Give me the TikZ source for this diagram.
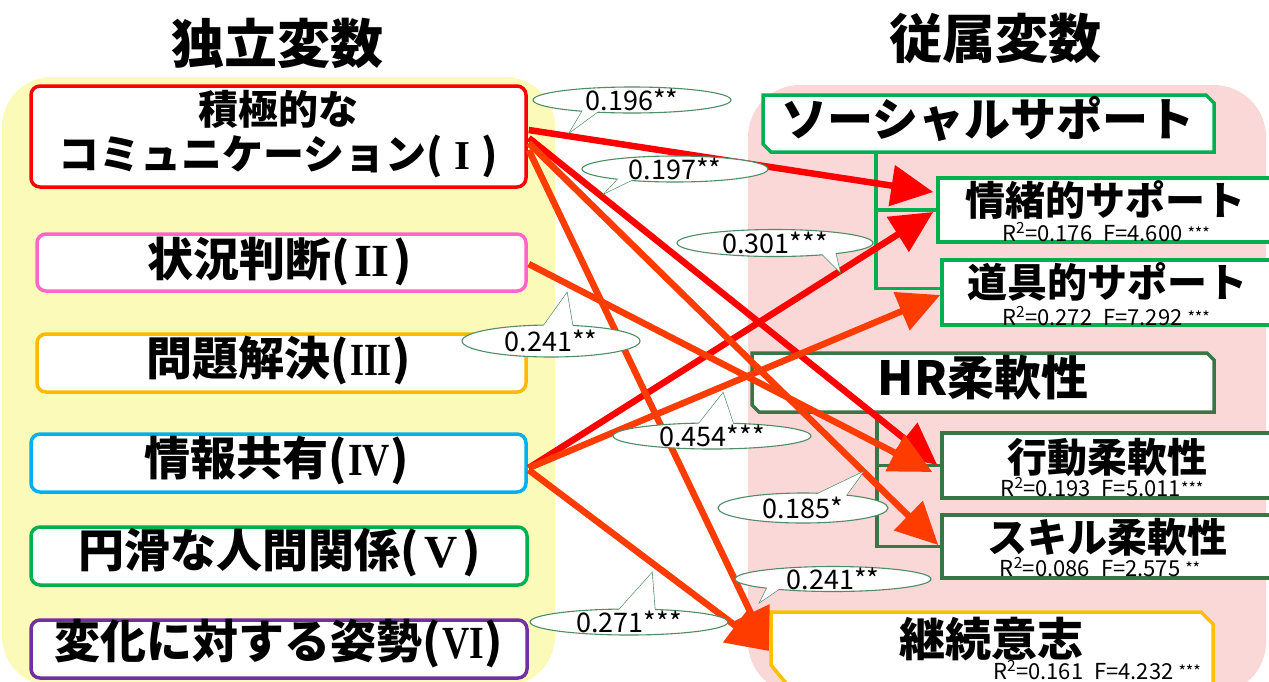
\documentclass[tikz,border=0pt]{standalone}
\usepackage{graphicx}
\usepackage{fontspec}
\setmainfont{Noto Sans CJK JP}
\newfontfamily\romfont{Liberation Serif}
\usetikzlibrary{arrows.meta,shapes.geometric,calc}
\definecolor{bgyellow}{RGB}{252,250,185}
\definecolor{bgpink}{RGB}{251,216,216}
\definecolor{cI}{RGB}{255,0,0}
\definecolor{cII}{RGB}{255,102,204}
\definecolor{cIII}{RGB}{255,185,0}
\definecolor{cIV}{RGB}{0,176,240}
\definecolor{cV}{RGB}{0,176,80}
\definecolor{cVI}{RGB}{112,48,160}
\definecolor{ssgreen}{RGB}{0,176,80}
\definecolor{hrgreen}{RGB}{56,118,70}
\definecolor{kzorange}{RGB}{255,192,0}
\definecolor{arred}{RGB}{255,0,0}
\definecolor{arorange}{RGB}{255,60,0}
\definecolor{callgreen}{RGB}{80,140,100}
\newcommand{\rnum}[2][1]{\makebox[0.95em]{\scalebox{#1}[1]{\romfont\bfseries #2}}}
\newcommand{\stars}[1]{\raisebox{2pt}{\fontsize{16}{16}\selectfont #1}}
\newcommand{\mybub}[6]{%
  \filldraw[tailsty] #5 -- cycle;
  \node[bub, minimum width=#3, minimum height=#4] (#1) at #2 {};
  \fill[white] #5 -- cycle;
  \node[numtxt] at (#1.center) {#6};}
\begin{document}
\begin{tikzpicture}[x=1pt,y=-1pt,
  jp/.style={inner sep=0pt, font=\fontsize{#1}{#1}\selectfont\bfseries},
  lbox/.style={draw, fill=white, rounded corners=9pt, line width=3.5pt, inner sep=0pt},
  rbox/.style={draw, fill=white, line width=3.5pt, inner sep=0pt},
  bub/.style={ellipse, draw=callgreen, fill=white, line width=1.1pt, inner sep=0pt},
  tailsty/.style={draw=callgreen, fill=white, line width=1.3pt, line join=miter},
  numtxt/.style={inner sep=0pt, font=\fontsize{27}{30}\selectfont},
  rsq/.style={inner sep=0pt, font=\fontsize{22}{24}\selectfont},
  arr/.style={line width=6.5pt, -{Triangle[length=42pt,width=40pt]}},
  ssline/.style={draw=ssgreen, line width=3.5pt},
  hrline/.style={draw=hrgreen, line width=3.5pt}]
\useasboundingbox (0,0) rectangle (1269,681);
\clip (0,0) rectangle (1269,681);
\fill[white] (0,0) rectangle (1269,681);
% backgrounds
\fill[bgyellow, rounded corners=50pt] (2,77) rectangle (555,686);
\fill[bgpink, rounded corners=52pt] (748,85) rectangle (1266,694);
% titles
\node[jp=53] (t1) at (277,43) {独立変数};
\node[jp=53] (t2) at (995,38) {従属変数};
% left boxes
\node[lbox, draw=cI, minimum width=495pt, minimum height=101pt] (b1) at (278.5,136.5) {};
\node[lbox, draw=cII, minimum width=489pt, minimum height=57pt] (b2) at (281.5,262.5) {};
\node[lbox, draw=cIII, minimum width=489pt, minimum height=58pt] (b3) at (281.5,363) {};
\node[lbox, draw=cIV, minimum width=495pt, minimum height=58pt] (b4) at (278.5,463) {};
\node[lbox, draw=cV, minimum width=496pt, minimum height=58pt] (b5) at (279,556) {};
\node[lbox, draw=cVI, minimum width=496pt, minimum height=58pt] (b6) at (279,649) {};
\node[jp=40] (b1a) at (278,109) {積極的な};
\node[jp=41] (b1b) at (278,156) {コミュニケーション(\rnum{I})};
\node[jp=46] (b2t) at (280,261) {状況判断(\rnum{II})};
\node[jp=46] (b3t) at (279,361) {問題解決(\rnum[0.78]{III})};
\node[jp=46] (b4t) at (277,461) {情報共有(\rnum[0.82]{IV})};
\node[jp=46] (b5t) at (280,553) {円滑な人間関係(\rnum{V})};
\node[jp=46] (b6t) at (279,644) {変化に対する姿勢(\rnum[0.82]{VI})};
% right boxes
\draw[ssline, fill=white] (763,95) -- (1206,95) -- (1214,103) -- (1214,152) -- (771,152) -- (763,144) -- cycle;
\node[jp=46] (sst) at (988,119) {ソーシャルサポート};
\coordinate (ssb) at (876,152);
\node[rbox, draw=ssgreen, minimum width=362pt, minimum height=64pt] (emo) at (1119,210) {};
\node[rbox, draw=ssgreen, minimum width=358pt, minimum height=65pt] (tool) at (1121,292.5) {};
\node[jp=40] (emot) at (1105,200) {情緒的サポート};
\node[jp=40] (toolt) at (1107,282) {道具的サポート};
\node[rsq] (emor) at (1106,232) {R\textsuperscript{2}=0.176\hspace{0.5em}F=4.600 \stars{***}};
\node[rsq] (toolr) at (1106,316) {R\textsuperscript{2}=0.272\hspace{0.5em}F=7.292 \stars{***}};
\draw[hrline, fill=white] (752,353) -- (1207,353) -- (1214,360) -- (1214,412) -- (759,412) -- (752,405) -- cycle;
\node[jp=47] (hrt) at (983,378) {HR柔軟性};
\coordinate (hrb) at (877,412);
\node[rbox, draw=hrgreen, minimum width=358pt, minimum height=65pt] (act) at (1121,465.5) {};
\node[rbox, draw=hrgreen, minimum width=358pt, minimum height=63pt] (skl) at (1121,546.5) {};
\node[jp=40] (actt) at (1107,457) {行動柔軟性};
\node[jp=40] (sklt) at (1107,537) {スキル柔軟性};
\node[rsq] (actr) at (1102,487) {R\textsuperscript{2}=0.193\hspace{0.5em}F=5.011\stars{***}};
\node[rsq] (sklr) at (1100,567) {R\textsuperscript{2}=0.086\hspace{0.5em}F=2.575 \stars{**}};
\draw[draw=kzorange, line width=3.5pt, fill=white] (771,612) -- (1201,612) -- (1213,624) -- (1213,700) -- (800,700) -- (771,665) -- cycle;
\node[jp=46] (kzt) at (991,639) {継続意志};
\node[rsq] (kzr) at (1097,670) {R\textsuperscript{2}=0.161\hspace{0.5em}F=4.232 \stars{***}};
\coordinate (kzin) at (769,651);
% brackets
\draw[ssline] (ssb) |- ($(tool.west)+(0,-4)$);
\draw[ssline] (ssb |- emo.west) -- (emo.west);
\draw[hrline] (hrb) |- (skl.west);
\draw[hrline] (hrb |- act.west) -- (act.west);
% arrows
\draw[arr, arred] ($(b1.east)+(1,-6.5)$) -- ($(emo.west)+(-3,-18)$);
\draw[arr, arred] ($(b1.east)+(1,1.5)$) -- ($(act.west)+(-3,-0.5)$);
\draw[arr, arred] ($(b4.east)+(1,5)$) -- ($(emo.west)+(-3,2)$);
\draw[arr, arorange] ($(b1.east)+(1,6.5)$) -- ($(skl.west)+(-2,-1.5)$);
\draw[arr, arorange] ($(b1.east)+(1,13.5)$) -- (kzin);
\draw[arr, arorange] ($(b2.east)+(1,1.5)$) -- ($(act.west)+(-8,6.5)$);
\draw[arr, arorange] ($(b4.east)+(1,5)$) -- ($(tool.west)+(0,2.5)$);
\draw[arr, arorange] ($(b4.east)+(1,7)$) -- (kzin);
% callouts
\mybub{c1}{(632,100)}{198pt}{26pt}{(583,110) -- (570,132) -- (600,110)}{0.196**}
\mybub{c2}{(675,169)}{186pt}{26pt}{(620,177) -- (605,193) -- (636,178)}{0.197**}
\mybub{c3}{(775,243)}{196pt}{27pt}{(820,252) -- (840,272) -- (835,251)}{0.301***}
\mybub{c4}{(551,341)}{178pt}{32pt}{(542,328) -- (567,293) -- (573,328)}{0.241**}
\mybub{c5}{(712,436)}{198pt}{26pt}{(697,426) -- (723,393) -- (734,426)}{0.454***}
\mybub{c6}{(803,508)}{170pt}{30pt}{(813,496) -- (863,472) -- (845,497)}{0.185*}
\mybub{c7}{(833,579)}{196pt}{25pt}{(768,586) -- (760,602) -- (782,587)}{0.241**}
\mybub{c8}{(629,622)}{198pt}{26pt}{(617,612) -- (652,573) -- (655,612)}{0.271***}
\end{tikzpicture}
\end{document}
